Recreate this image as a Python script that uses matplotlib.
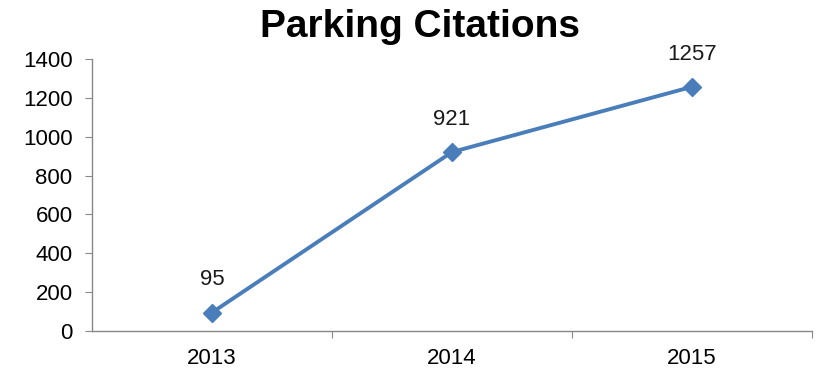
import matplotlib.pyplot as plt

anos = ['2013', '2014', '2015']
multas = [95, 921, 1257]
yticks = [0, 200, 400, 600, 800, 1000, 1200, 1400]

plt.rcParams['font.family'] = ['Liberation Sans', 'DejaVu Sans']

fig = plt.figure(figsize=(8.17, 3.71), dpi=100)
ax = fig.add_axes([0.1126, 0.1078, 0.8813, 0.7332])

x = list(range(len(anos)))
ax.plot(x, multas, color='#4a7ebb', linewidth=2.8, marker='D', markersize=9,
        markerfacecolor='#4a7ebb', markeredgecolor='#4a7ebb')

# rótulos de valor acima de cada ponto
for xi, v in zip(x, multas):
    ax.annotate(str(v), (xi, v), xytext=(0, 16), textcoords='offset points',
                ha='center', va='bottom', fontsize=16, color='#1a1a1a')

ax.set_xlim(-0.5, len(anos) - 0.5)
ax.set_ylim(0, 1400)
ax.set_yticks(yticks)
ax.set_yticklabels([str(t) for t in yticks])

# marcas do eixo x entre as categorias, rótulos centralizados
ax.set_xticks([i + 0.5 for i in x])
ax.set_xticklabels([])
ax.set_xticks(x, minor=True)
ax.set_xticklabels(anos, minor=True)
ax.tick_params(axis='x', which='minor', length=0, pad=12, labelsize=16)
ax.tick_params(axis='x', which='major', length=5, color='#888888', direction='out')
ax.tick_params(axis='y', length=5, color='#888888', labelsize=16, pad=9)

for lado in ['top', 'right']:
    ax.spines[lado].set_visible(False)
for lado in ['left', 'bottom']:
    ax.spines[lado].set_color('#888888')
    ax.spines[lado].set_linewidth(1)

fig.suptitle('Parking Citations', x=0.514, y=0.975, va='top',
             fontsize=28, fontweight='bold')

plt.savefig('out.png', dpi=100)
